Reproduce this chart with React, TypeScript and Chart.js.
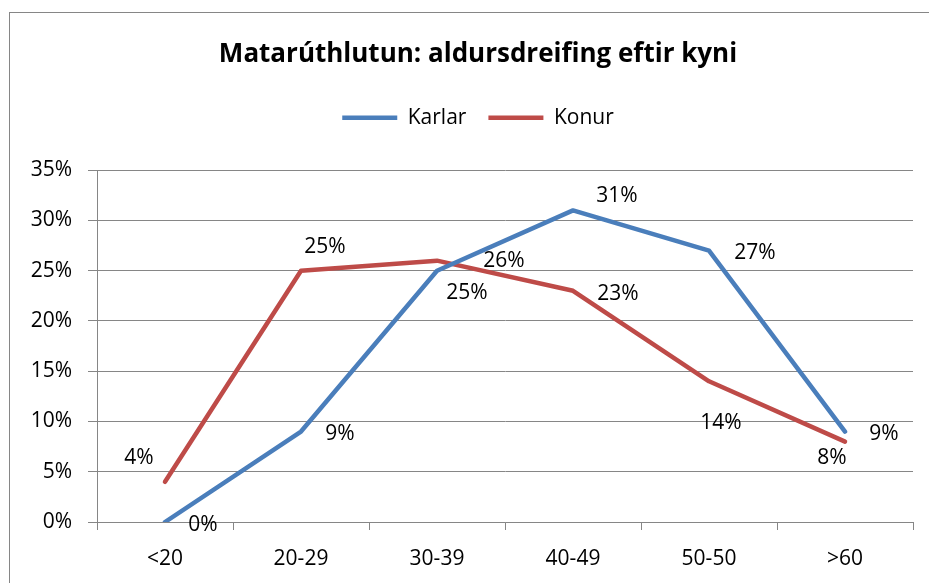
import React, { useEffect, useRef } from "react";
import { Chart, registerables } from "chart.js";

Chart.register(...registerables);

const categories = ["<20", "20-29", "30-39", "40-49", "50-50", ">60"];
const karlar = [0, 9, 25, 31, 27, 9];
const konur = [4, 25, 26, 23, 14, 8];
const yTicks = [0, 5, 10, 15, 20, 25, 30, 35];

// label offsets (pixels) relative to each point
const karlarLabelOffsets = [
  [38, 3],
  [39, 2],
  [30, 22],
  [44, -14],
  [46, 2],
  [39, 2],
];
const konurLabelOffsets = [
  [-26, -24],
  [24, -24],
  [67, 0],
  [45, 3],
  [12, 42],
  [-13, 16],
];

const FONT = "'Open Sans', Lato, sans-serif";
const BLUE = "#4A7EBB";
const RED = "#BE4B48";
const GRID = "#868686";

const frameAndLabels = {
  id: "frameAndLabels",
  beforeDraw(chart: any) {
    const ctx = chart.ctx;
    ctx.save();
    ctx.fillStyle = "#ffffff";
    ctx.fillRect(0, 0, chart.width, chart.height);
    ctx.strokeStyle = GRID;
    ctx.lineWidth = 1;
    ctx.strokeRect(9.5, 12.5, 2000, 2000);
    ctx.restore();
  },
  afterDatasetsDraw(chart: any) {
    const ctx = chart.ctx;
    ctx.save();
    ctx.font = `21px ${FONT}`;
    ctx.fillStyle = "#000000";
    ctx.textAlign = "center";
    ctx.textBaseline = "middle";
    const offsets = [karlarLabelOffsets, konurLabelOffsets];
    chart.data.datasets.forEach((ds: any, di: number) => {
      const meta = chart.getDatasetMeta(di);
      meta.data.forEach((pt: any, i: number) => {
        const [dx, dy] = offsets[di][i];
        ctx.fillText(`${ds.data[i]}%`, pt.x + dx, pt.y + dy);
      });
    });
    ctx.restore();
  },
};

export default function App() {
  const ref = useRef<HTMLCanvasElement | null>(null);

  useEffect(() => {
    document.body.style.margin = "0";
    const canvas = ref.current!;
    const chart = new Chart(canvas, {
      type: "line",
      data: {
        labels: categories,
        datasets: [
          {
            label: "Karlar",
            data: karlar,
            borderColor: BLUE,
            backgroundColor: BLUE,
            borderWidth: 4.5,
            pointRadius: 0,
            borderCapStyle: "round",
            borderJoinStyle: "round",
            tension: 0,
          },
          {
            label: "Konur",
            data: konur,
            borderColor: RED,
            backgroundColor: RED,
            borderWidth: 4.5,
            pointRadius: 0,
            borderCapStyle: "round",
            borderJoinStyle: "round",
            tension: 0,
          },
        ],
      },
      options: {
        animation: false,
        responsive: false,
        devicePixelRatio: 1,
        layout: { padding: { top: 12, left: 43, right: 16, bottom: 0 } },
        plugins: {
          title: {
            display: true,
            text: "Matarúthlutun: aldursdreifing eftir kyni",
            color: "#000000",
            font: { family: FONT, size: 26, weight: "bold", lineHeight: 1.2 },
            padding: { top: 27, bottom: 15 },
          },
          subtitle: {
            display: true,
            text: " ",
            font: { size: 10, lineHeight: 1 },
            padding: { top: 0, bottom: 22 },
            weight: 500,
          } as any,
          legend: {
            display: true,
            position: "top",
            labels: {
              usePointStyle: true,
              pointStyle: "line",
              pointStyleWidth: 55,
              color: "#000000",
              font: { family: FONT, size: 21 },
              padding: 22,
            },
          },
          tooltip: { enabled: false },
        },
        scales: {
          x: {
            type: "category",
            offset: true,
            grid: {
              display: true,
              offset: true,
              drawOnChartArea: false,
              drawTicks: true,
              tickLength: 8,
              color: GRID,
            },
            border: { display: true, color: GRID, width: 1 },
            ticks: {
              color: "#000000",
              font: { family: FONT, size: 21 },
              padding: 16,
              maxRotation: 0,
            },
            afterFit(scale: any) {
              scale.height = 61;
            },
          },
          y: {
            type: "linear",
            min: 0,
            max: 35,
            afterBuildTicks(scale: any) {
              scale.ticks = yTicks.map((v) => ({ value: v }));
            },
            grid: {
              display: true,
              color: GRID,
              drawTicks: true,
              tickLength: 9,
              lineWidth: 1,
            },
            border: { display: true, color: GRID, width: 1 },
            ticks: {
              color: "#000000",
              font: { family: FONT, size: 21 },
              padding: 16,
              callback: (v: any) => `${v}%`,
            },
            afterFit(scale: any) {
              scale.width = 54;
              scale._computeLabelArea = () => undefined;
            },
          },
        },
      },
      plugins: [frameAndLabels],
    });
    return () => chart.destroy();
  }, []);

  return (
    <div style={{ position: "absolute", left: 0, top: 0, width: 929, height: 583 }}>
      <canvas ref={ref} width={929} height={583} style={{ width: 929, height: 583 }} />
    </div>
  );
}
